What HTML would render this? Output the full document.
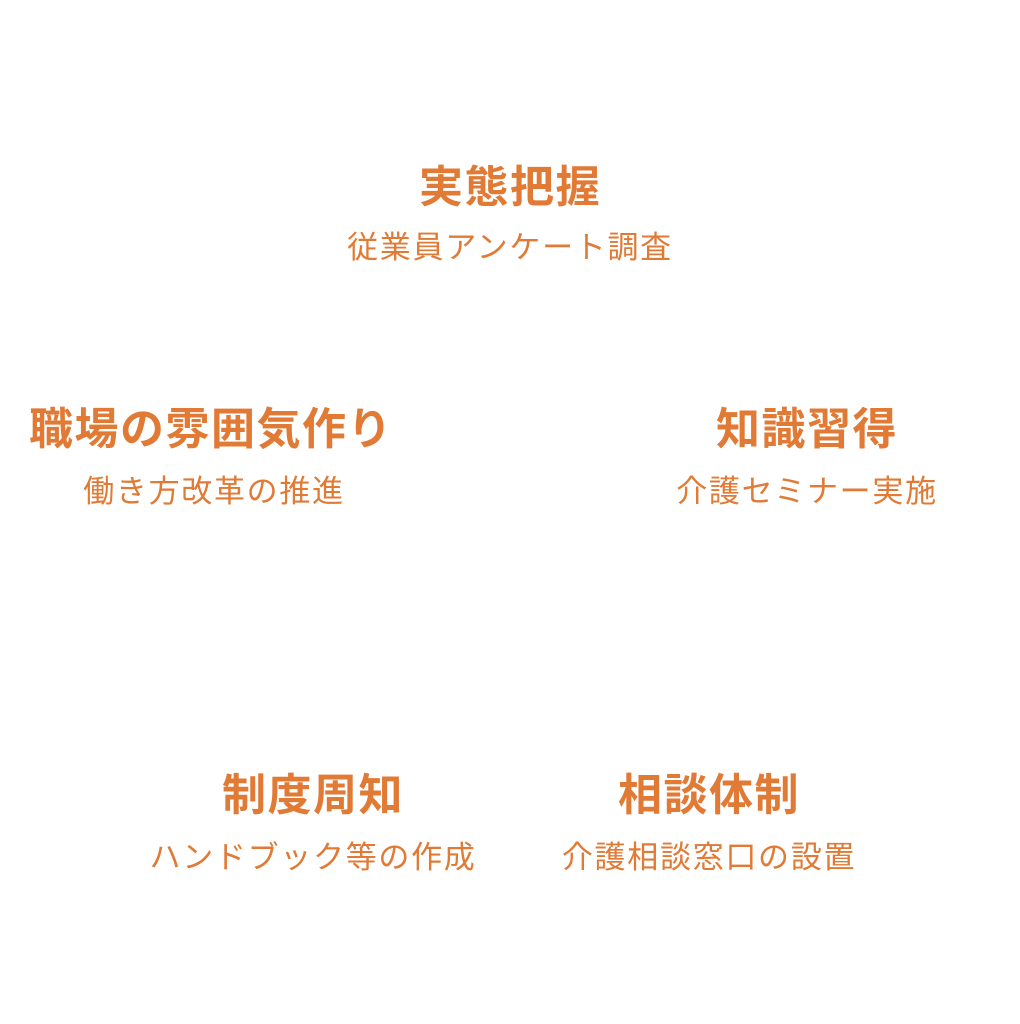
<!DOCTYPE html>
<html><head><meta charset="utf-8"><style>
html,body{margin:0;padding:0;background:#fff;}
body{width:1020px;height:1024px;position:relative;overflow:hidden;font-family:"Liberation Sans","Noto Sans CJK JP",sans-serif;color:#E07A35;}
.t{position:absolute;width:600px;text-align:center;line-height:1;white-space:nowrap;}
.h{font-size:44px;font-weight:bold;letter-spacing:1.5px;}
.s{font-size:31px;letter-spacing:1.7px;}
</style></head><body>
<div class="t h" style="left:210px;top:166px">実態把握</div>
<div class="t s" style="left:210px;top:232px">従業員アンケート調査</div>
<div class="t h" style="left:-89px;top:408px">職場の雰囲気作り</div>
<div class="t s" style="left:-86px;top:476px">働き方改革の推進</div>
<div class="t h" style="left:507px;top:408px">知識習得</div>
<div class="t s" style="left:507px;top:476px">介護セミナー実施</div>
<div class="t h" style="left:13px;top:774px">制度周知</div>
<div class="t s" style="left:13px;top:842px">ハンドブック等の作成</div>
<div class="t h" style="left:409px;top:774px">相談体制</div>
<div class="t s" style="left:409px;top:842px">介護相談窓口の設置</div>
</body></html>
